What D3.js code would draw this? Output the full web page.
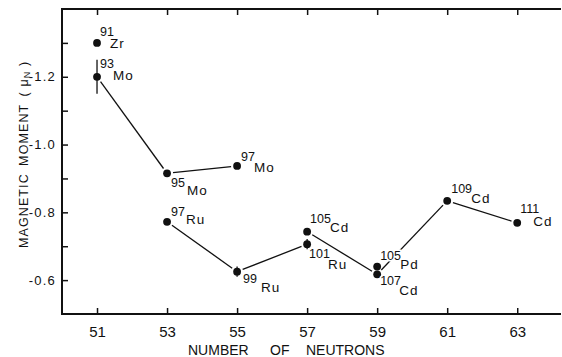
<!DOCTYPE html>
<html>
  <head>
    <meta charset="utf-8">
    <title>Magnetic moments vs neutron number</title>
    <script src="https://d3js.org/d3.v7.min.js"></script>
    <style>
      body { margin: 0; background: #fff; }
      text { font-family: "Liberation Sans", Arial, sans-serif; fill: #111; }
    </style>
  </head>
  <body>
    <svg id="chart" width="562" height="357"></svg>
    <script>
      // isotopes: mass number, element, neutron number, moment (mu_N), error
      const massNumbers = ["91", "93", "95", "97", "97", "99", "101", "105", "105", "107", "109", "111"];
      const elements = ["Zr", "Mo", "Mo", "Mo", "Ru", "Ru", "Ru", "Cd", "Pd", "Cd", "Cd", "Cd"];
      const neutrons = [51, 51, 53, 55, 53, 55, 57, 57, 59, 59, 61, 63];
      const moments = [-1.30, -1.20, -0.915, -0.937, -0.772, -0.625, -0.706, -0.743, -0.640, -0.617, -0.834, -0.769];
      const errors = [0, 0.05, 0, 0, 0, 0.015, 0.015, 0, 0, 0, 0, 0];
      // which points are joined by lines (indices)
      const chains = [[1, 2, 3], [4, 5, 6], [7, 9, 10, 11]];
      const xTicks = [51, 53, 55, 57, 59, 61, 63];
      const yTicks = [-1.3, -1.2, -1.1, -1.0, -0.9, -0.8, -0.7, -0.6];
      const yTickLabels = [-1.2, -1.0, -0.8, -0.6];

      // label placement relative to the dot (px): [mass dx, mass dy, element dx, element dy]
      const labelOffsets = [
        [3, -7, 13, 5], [3, -9, 16, 3], [4, 14, 20, 22], [4, -5, 17, 6],
        [4, -6, 19, 2], [6, 11, 24, 20], [2, 14, 21, 25], [3, -9, 23, 0],
        [3, -7, 23, 2], [3, 11, 22, 21], [4, -8, 24, 2], [3, -10, 16, 3]
      ];

      const svg = d3.select("#chart");
      const mLeft = 62, mRight = 561, mTop = 9, mBottom = 314;

      const x = d3.scaleLinear().domain([50, 64.25]).range([mLeft, mRight]);
      const y = d3.scaleLinear().domain([-0.5, -1.4]).range([mBottom, mTop]);

      // frame
      svg.append("path")
        .attr("d", `M${mRight},${mTop}H${mLeft}V${mBottom}H${mRight}`)
        .attr("fill", "none").attr("stroke", "#111").attr("stroke-width", 2);

      // bottom axis, ticks pointing in
      const xAxis = svg.append("g")
        .attr("transform", `translate(0,${mBottom})`)
        .call(d3.axisBottom(x).tickValues(xTicks).tickSizeInner(-6).tickSizeOuter(0).tickPadding(12));
      xAxis.select(".domain").remove();
      xAxis.selectAll("line").attr("stroke", "#111").attr("stroke-width", 1.5);
      xAxis.selectAll("text")
        .attr("font-family", "'Liberation Sans Narrow', 'Liberation Sans', Arial, sans-serif")
        .attr("font-size", 15).attr("fill", "#111");

      // top ticks
      const xTop = svg.append("g")
        .attr("transform", `translate(0,${mTop})`)
        .call(d3.axisTop(x).tickValues(xTicks).tickSizeInner(-6).tickSizeOuter(0).tickFormat(""));
      xTop.select(".domain").remove();
      xTop.selectAll("line").attr("stroke", "#111").attr("stroke-width", 1.5);

      // left axis
      const yAxis = svg.append("g")
        .attr("transform", `translate(${mLeft},0)`)
        .call(d3.axisLeft(y).tickValues(yTicks).tickSizeInner(-6).tickSizeOuter(0).tickPadding(6)
          .tickFormat(d => yTickLabels.some(v => Math.abs(v - d) < 1e-9) ? "-" + Math.abs(d).toFixed(1) : ""));
      yAxis.select(".domain").remove();
      yAxis.selectAll("line").attr("stroke", "#111").attr("stroke-width", 1.5);
      yAxis.selectAll("text")
        .attr("font-size", 13).attr("letter-spacing", 1.2).attr("fill", "#111");

      // connecting lines, trimmed a little at the dots
      const gap = 6;
      chains.forEach(chain => {
        for (let k = 0; k < chain.length - 1; k++) {
          const a = chain[k], b = chain[k + 1];
          const x1 = x(neutrons[a]), y1 = y(moments[a]);
          const x2 = x(neutrons[b]), y2 = y(moments[b]);
          const len = Math.hypot(x2 - x1, y2 - y1);
          const ux = (x2 - x1) / len, uy = (y2 - y1) / len;
          svg.append("line")
            .attr("x1", x1 + ux * gap).attr("y1", y1 + uy * gap)
            .attr("x2", x2 - ux * gap).attr("y2", y2 - uy * gap)
            .attr("stroke", "#111").attr("stroke-width", 1.3);
        }
      });

      const idx = d3.range(neutrons.length);

      // error bars
      svg.append("g").selectAll("line")
        .data(idx.filter(i => errors[i] > 0))
        .join("line")
        .attr("x1", i => x(neutrons[i])).attr("x2", i => x(neutrons[i]))
        .attr("y1", i => y(moments[i] - errors[i])).attr("y2", i => y(moments[i] + errors[i]))
        .attr("stroke", "#111").attr("stroke-width", 1.3);

      // dots
      svg.append("g").selectAll("circle")
        .data(idx)
        .join("circle")
        .attr("cx", i => x(neutrons[i])).attr("cy", i => y(moments[i]))
        .attr("r", 3.9).attr("fill", "#111");

      // isotope labels with a white halo so they cut lines
      const labels = svg.append("g");
      idx.forEach(i => {
        const cx = x(neutrons[i]), cy = y(moments[i]);
        const o = labelOffsets[i];
        labels.append("text")
          .attr("x", cx + o[0]).attr("y", cy + o[1])
          .attr("font-size", 12.5)
          .attr("stroke", "#fff").attr("stroke-width", 3).attr("paint-order", "stroke")
          .text(massNumbers[i]);
        labels.append("text")
          .attr("x", cx + o[2]).attr("y", cy + o[3])
          .attr("font-size", 13.5).attr("letter-spacing", 1)
          .attr("stroke", "#fff").attr("stroke-width", 3).attr("paint-order", "stroke")
          .text(elements[i]);
      });

      // axis titles
      const xTitle = svg.append("g");
      [["NUMBER", 188], ["OF", 270], ["NEUTRONS", 306]].forEach(w => {
        xTitle.append("text").attr("x", w[1]).attr("y", 355).attr("font-size", 14).text(w[0]);
      });

      const yTitle = svg.append("text")
        .attr("transform", "translate(28,248) rotate(-90)")
        .attr("font-size", 12.5).attr("letter-spacing", 1.1);
      yTitle.append("tspan").text("MAGNETIC\u2002MOMENT\u2002( \u03bc");
      yTitle.append("tspan").attr("font-size", 9).attr("dy", 2).text("N");
      yTitle.append("tspan").attr("dy", -2).text(" )");
    </script>
  </body>
</html>
